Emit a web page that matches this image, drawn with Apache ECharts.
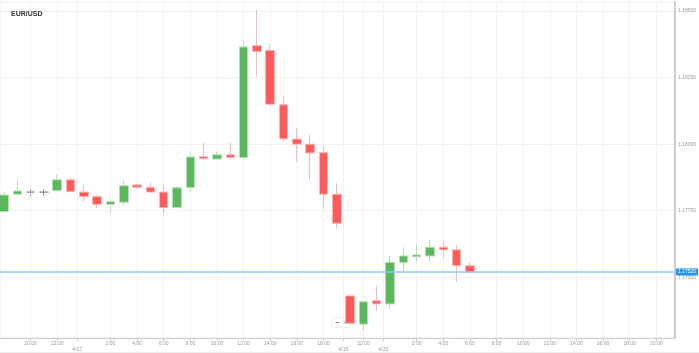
<!DOCTYPE html>
<html>
<head>
<meta charset="utf-8">
<script src="https://cdn.jsdelivr.net/npm/echarts@6/dist/echarts.min.js"></script>
<style>
  html, body { margin: 0; padding: 0; background: #fff; }
  #chart { width: 699px; height: 353px; }
</style>
</head>
<body>
<div id="chart"></div>
<script>
// hourly candles, 4/16 18:00 -> 4/17 19:00, then 4/19 21:00 -> 4/20 6:00
const opens  = [1.17747, 1.17812, 1.17820, 1.17820, 1.17826, 1.17866, 1.17820, 1.17803, 1.17774, 1.17782,
                1.17847, 1.17838, 1.17820, 1.17762, 1.17837, 1.17953, 1.17944, 1.17960, 1.17950, 1.18370,
                1.18352, 1.18148, 1.18019, 1.18000, 1.17968, 1.17812,
                1.17430, 1.17324, 1.17412, 1.17400, 1.17556, 1.17577, 1.17580, 1.17613, 1.17603, 1.17543];
const closes = [1.17809, 1.17824, 1.17820, 1.17820, 1.17866, 1.17822, 1.17803, 1.17774, 1.17784, 1.17844,
                1.17838, 1.17820, 1.17762, 1.17836, 1.17952, 1.17945, 1.17960, 1.17950, 1.18365, 1.18348,
                1.18150, 1.18020, 1.18000, 1.17967, 1.17812, 1.17703,
                1.17327, 1.17408, 1.17400, 1.17556, 1.17580, 1.17584, 1.17613, 1.17603, 1.17544, 1.17519];
const lows   = [1.17745, 1.17811, 1.17806, 1.17805, 1.17826, 1.17822, 1.17784, 1.17759, 1.17743, 1.17769,
                1.17831, 1.17816, 1.17737, 1.17759, 1.17822, 1.17941, 1.17943, 1.17946, 1.17947, 1.18254,
                1.18150, 1.18010, 1.17935, 1.17866, 1.17759, 1.17684,
                1.17327, 1.17302, 1.17374, 1.17381, 1.17517, 1.17559, 1.17559, 1.17575, 1.17483, 1.17515];
const highs  = [1.17822, 1.17867, 1.17831, 1.17831, 1.17885, 1.17876, 1.17843, 1.17809, 1.17791, 1.17863,
                1.17851, 1.17857, 1.17847, 1.17843, 1.17968, 1.18006, 1.17972, 1.18006, 1.18390, 1.18505,
                1.18373, 1.18179, 1.18060, 1.18035, 1.17991, 1.17853,
                1.17437, 1.17408, 1.17468, 1.17581, 1.17613, 1.17628, 1.17640, 1.17634, 1.17622, 1.17556];

// x tick positions (in candle index units) and their labels
const tickPos  = [2, 4, 5.5, 8, 10, 12, 14, 16, 18, 20, 22, 24, 25.5, 27, 28.5, 31, 33, 35, 37, 39, 41, 43, 45, 47, 49];
const tickText = ['20:00', '22:00', '\n4/17', '2:00', '4:00', '6:00', '8:00', '10:00', '12:00', '14:00', '16:00', '18:00',
                  '\n4/19', '22:00', '\n4/20', '2:00', '4:00', '6:00', '8:00', '10:00', '12:00', '14:00', '16:00', '18:00', '20:00'];

const priceTicks = [1.175, 1.1775, 1.18, 1.1825, 1.185];
const lastPrice = 1.17520;

const xMin = -0.3;
const xMax = 50.4;

let candles = [];
for (let i = 0; i < opens.length; i++) {
  candles.push([i, opens[i], closes[i], lows[i], highs[i]]);
}

var chart = echarts.init(document.getElementById("chart"));

chart.setOption({
  animation: false,
  title: {
    text: "EUR/USD",
    left: 6,
    top: 6,
    textStyle: { fontSize: 7, fontWeight: "bold", color: "#333", fontFamily: "Arial" },
  },
  grid: {
    left: 0,
    right: 18,
    top: 2,
    bottom: 15,
    show: true,
    borderColor: "#eeeeee",
    borderWidth: 1,
  },
  xAxis: {
    type: "value",
    min: xMin,
    max: xMax,
    axisLine: { show: true, onZero: false, lineStyle: { color: "#cccccc" } },
    axisTick: { show: true, length: 3, lineStyle: { color: "#cccccc" }, customValues: tickPos },
    axisLabel: {
      customValues: tickPos,
      fontSize: 5,
      color: "#999",
      margin: 3,
      lineHeight: 6,
      formatter: function (v) {
        let k = tickPos.indexOf(v);
        return k >= 0 ? tickText[k] : "";
      },
    },
    splitLine: { show: true, lineStyle: { color: "#f2f2f2" } },
  },
  yAxis: {
    type: "value",
    position: "right",
    min: 1.17272,
    max: 1.18534,
    axisLine: { show: true, onZero: false, lineStyle: { color: "#cccccc", width: 2 } },
    axisTick: { show: false, customValues: priceTicks },
    axisLabel: {
      customValues: priceTicks,
      fontSize: 5,
      color: "#999",
      margin: 3,
      formatter: function (v) { return v.toFixed(5); },
    },
    splitLine: { show: true, lineStyle: { color: "#f2f2f2" } },
  },
  series: [
    {
      // current price line
      type: "line",
      data: [[xMin, lastPrice], [xMax, lastPrice]],
      symbol: "none",
      silent: true,
      lineStyle: { color: "#90caf9", width: 1.5 },
      endLabel: {
        show: true,
        distance: 1,
        fontSize: 5,
        color: "#fff",
        backgroundColor: "#2196f3",
        padding: [1, 2],
        formatter: function () { return lastPrice.toFixed(5); },
      },
    },
    {
      type: "candlestick",
      data: candles,
      encode: { x: 0, y: [1, 2, 3, 4] },
      barWidth: 9,
      itemStyle: {
        color: "#5cb85c",
        color0: "#ff5b5b",
        borderColor: "#b5dfb5",
        borderColor0: "#ffb5b5",
        borderColorDoji: "#999999",
        borderWidth: 1,
      },
    },
  ],
  graphic: [
    {
      type: "group",
      left: 333,
      top: 318,
      children: [
        {
          type: "rect",
          shape: { x: 0, y: 0, width: 17, height: 9, r: 1 },
          style: { fill: "#fff", shadowBlur: 2, shadowColor: "rgba(0,0,0,0.25)" },
        },
        { type: "text", x: 2.5, y: 0.5, style: { text: "\u2212", fontSize: 8, fill: "#444" } },
        { type: "text", x: 10, y: 0.5, style: { text: "+", fontSize: 8, fill: "#444" } },
      ],
    },
    {
      type: "line",
      shape: { x1: 0, y1: 352.5, x2: 699, y2: 352.5 },
      style: { stroke: "#eeeeee", lineWidth: 1 },
    },
  ],
});
</script>
</body>
</html>
